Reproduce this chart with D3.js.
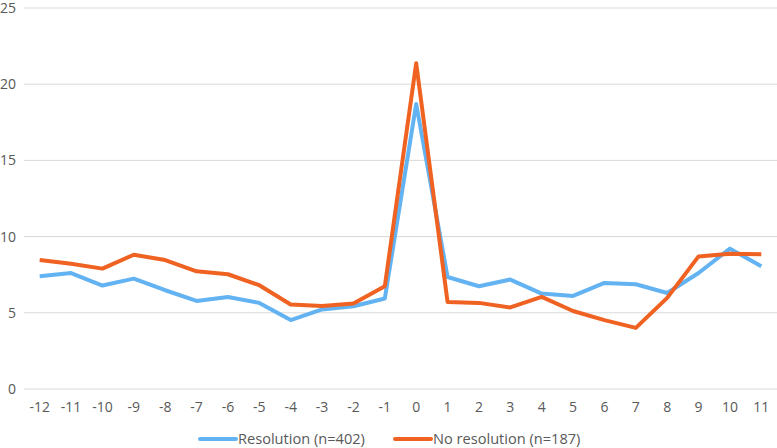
<!DOCTYPE html>
<html>
<head>
<meta charset="utf-8">
<script src="https://cdn.jsdelivr.net/npm/d3@7"></script>
<style>
  body { margin: 0; background: #fff; }
  svg text { font-family: 'Open Sans', sans-serif; fill: #595959; }
</style>
</head>
<body>
<div id="chart"></div>
<script>
const categories = ['-12', '-11', '-10', '-9', '-8', '-7', '-6', '-5', '-4', '-3', '-2', '-1',
  '0', '1', '2', '3', '4', '5', '6', '7', '8', '9', '10', '11'];
const resolution = [7.40, 7.61, 6.79, 7.24, 6.48, 5.78, 6.04, 5.65, 4.52, 5.22, 5.43, 5.94,
  18.70, 7.35, 6.74, 7.18, 6.26, 6.11, 6.96, 6.87, 6.30, 7.61, 9.21, 8.05];
const noResolution = [8.46, 8.22, 7.90, 8.81, 8.46, 7.72, 7.53, 6.81, 5.54, 5.45, 5.61, 6.74,
  21.38, 5.71, 5.65, 5.35, 6.04, 5.12, 4.52, 4.01, 5.98, 8.70, 8.88, 8.84];
const yTicks = [0, 5, 10, 15, 20, 25];
const seriesNames = ['Resolution (n=402)', 'No resolution (n=187)'];

const width = 777;
const height = 448;
const margin = { top: 8, right: 0, bottom: 59, left: 24 };

const svg = d3
  .select('#chart')
  .append('svg')
  .attr('width', width)
  .attr('height', height);

const xScale = d3
  .scaleBand()
  .domain(categories)
  .range([margin.left, width - margin.right]);

const yScale = d3
  .scaleLinear()
  .domain([0, 25])
  .range([height - margin.bottom, margin.top]);

// gridlines
svg
  .append('g')
  .selectAll('line')
  .data(yTicks)
  .enter()
  .append('line')
  .attr('x1', margin.left)
  .attr('x2', width - margin.right)
  .attr('y1', d => yScale(d))
  .attr('y2', d => yScale(d))
  .attr('stroke', '#d9d9d9')
  .attr('stroke-width', 1);

// y axis labels
const yAxis = svg
  .append('g')
  .attr('transform', `translate(${margin.left - 8}, 0)`)
  .call(d3.axisLeft(yScale).tickValues(yTicks).tickSize(0).tickPadding(0));
yAxis.select('.domain').remove();
yAxis.selectAll('text')
  .attr('font-size', 14)
  .attr('fill', '#595959')
  .style('font-family', "'Open Sans', sans-serif");

// x axis labels
const xAxis = svg
  .append('g')
  .attr('transform', `translate(0, ${yScale(0)})`)
  .call(d3.axisBottom(xScale).tickSize(0).tickPadding(13));
xAxis.select('.domain').remove();
xAxis.selectAll('text')
  .attr('font-size', 14)
  .attr('fill', '#595959')
  .style('font-family', "'Open Sans', sans-serif");

const colors = ['#63b3f2', '#ef6222'];
const lineFunc = d3
  .line()
  .x((d, i) => xScale(categories[i]) + xScale.bandwidth() / 2)
  .y(d => yScale(d));

[resolution, noResolution].forEach((vals, k) => {
  svg
    .append('path')
    .attr('d', lineFunc(vals))
    .attr('fill', 'none')
    .attr('stroke', colors[k])
    .attr('stroke-width', 4)
    .attr('stroke-linejoin', 'round');
});

// legend
const legendX = [200, 395];
const legendY = 439;
seriesNames.forEach((name, k) => {
  svg
    .append('line')
    .attr('x1', legendX[k])
    .attr('x2', legendX[k] + 36)
    .attr('y1', legendY)
    .attr('y2', legendY)
    .attr('stroke', colors[k])
    .attr('stroke-width', 4)
    .attr('stroke-linecap', 'round');
  svg
    .append('text')
    .attr('x', legendX[k] + 38)
    .attr('y', legendY)
    .attr('dy', '0.35em')
    .attr('font-size', 14.6)
    .text(name);
});
</script>
</body>
</html>
